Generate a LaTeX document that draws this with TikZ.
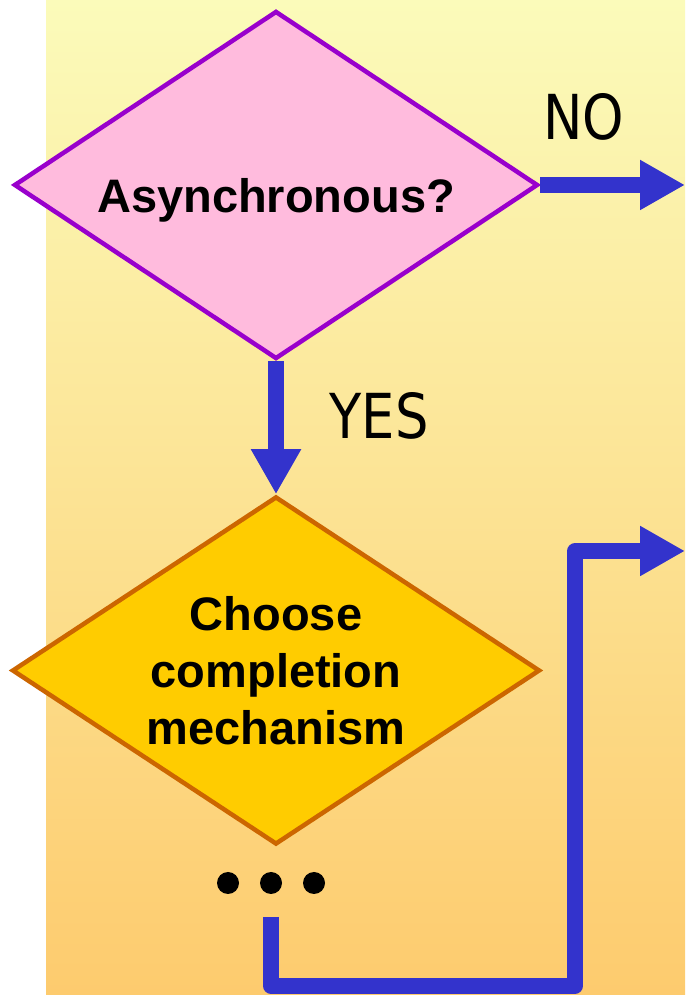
\documentclass[tikz,border=0pt]{standalone}
\usepackage{fontspec}
\setmainfont{Liberation Sans}
\newfontfamily\tagfont[FakeStretch=0.85]{DejaVu Sans}
\usetikzlibrary{shapes.geometric, arrows.meta, positioning}

\definecolor{bgtop}{HTML}{FBFBBA}
\definecolor{bgbottom}{HTML}{FDCB6E}
\definecolor{askfill}{HTML}{FFBBDD}
\definecolor{askline}{HTML}{9900CC}
\definecolor{pickfill}{HTML}{FFCC00}
\definecolor{pickline}{HTML}{CC6600}
\definecolor{flowblue}{HTML}{3333CC}

\tikzset{
    decision/.style={diamond, aspect=1.5, inner sep=0pt, line width=4.5pt,
        minimum width=524pt, minimum height=348pt, align=center,
        font=\bfseries\fontsize{47}{57}\selectfont},
    flow/.style={draw=flowblue, line width=15.5pt, line join=round,
        -{Triangle[length=45pt, width=47pt]}},
    answer/.style={font=\tagfont\fontsize{62}{70}\selectfont}
}

\begin{document}
\begin{tikzpicture}[x=1pt, y=1pt]
    \useasboundingbox (0,0) rectangle (685,995);
    \fill [white] (0,0) rectangle (685,995);
    \shade [top color=bgtop, bottom color=bgbottom] (46,0) rectangle (685,995);

    \node [decision, draw=askline, fill=askfill] (async) at (276,810)
        {\raisebox{-28pt}[0pt][0pt]{Asynchronous?}};
    \node [decision, draw=pickline, fill=pickfill, minimum width=528pt,
        below=133pt of async] (choose)
        {Choose\\completion\\mechanism};

    \node [answer] (no) at (584,878) {NO};
    \node [answer] (yes) at (379,579) {YES};

    \coordinate (noend) at (685,810);
    \draw [flow] (async.east) -- (noend);
    \draw [flow] (async.south) -- (choose.north);

    \node [inner sep=0pt] (dots) at (271,112) {};
    \foreach \dx in {-43,0,43}
        \fill ([xshift=\dx pt]dots) circle (11pt);

    \coordinate (loopstart) at ([yshift=-34pt]dots);
    \coordinate (loopturn) at (575,9);
    \coordinate (loopend) at (685,444);
    \draw [flow] (loopstart) |- (loopturn) |- (loopend);
\end{tikzpicture}
\end{document}
